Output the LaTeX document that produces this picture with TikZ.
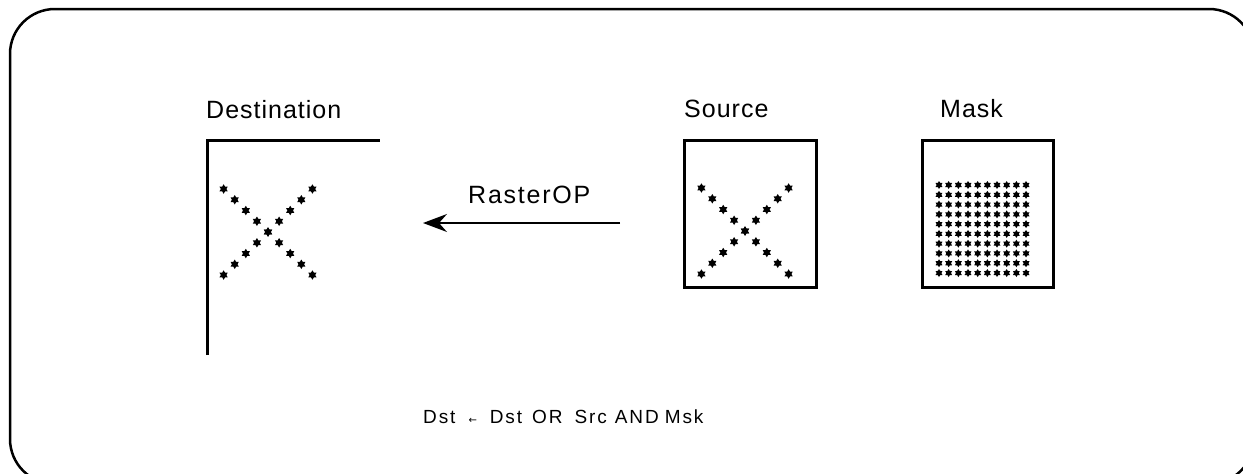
\documentclass[tikz,border=0pt]{standalone}
\usepackage{fontspec}
\setmainfont{Liberation Sans}
\newfontfamily\dvfont{DejaVu Sans}
\usetikzlibrary{shapes.geometric,arrows.meta}
\begin{document}
\begin{tikzpicture}[x=1pt,y=-1pt,
  lbl/.style={font=\fontsize{25}{30}\selectfont\addfontfeatures{LetterSpace=4}, inner sep=0, anchor=base west},
  dotstar/.style={star, star points=6, star point ratio=1.7, minimum size=9.5pt, inner sep=0, fill=black, draw=none},
  gridstar/.style={dotstar, minimum size=8pt},
  frameline/.style={line width=2.5pt},
  bx/.style={line width=3pt},
  arr/.style={line width=1.5pt, -{Stealth[length=24pt,width=18pt,inset=8pt]}}]
\useasboundingbox (0,0) rectangle (1243,474);
% outer frame (runs off the right and bottom edges)
\draw[frameline, rounded corners=45pt] (10,9) rectangle (1254,484);
% labels
\node[lbl] (ldst) at (206,118) {Destination};
\node[lbl] (lsrc) at (684,117) {Source};
\node[lbl] (lmsk) at (940,117) {Mask};
\node[lbl, font=\fontsize{25}{30}\selectfont\addfontfeatures{LetterSpace=7}] (lrop) at (468,203) {RasterOP};
% destination bracket
\coordinate (dbot) at (207,355);
\coordinate (dtl) at (207,140);
\coordinate (dtr) at (380,140);
\draw[bx] (dbot) -- (dtl) -- (dtr);
% source and mask boxes
\node[draw, bx, minimum width=132pt, minimum height=147pt, inner sep=0] (src) at (750,213.5) {};
\node[draw, bx, minimum width=131pt, minimum height=147pt, inner sep=0] (msk) at (987.5,213.5) {};
% arrow
\coordinate (as) at (620,223);
\coordinate (ae) at (423,223);
\draw[arr] (as) -- (ae);
% destination X
\foreach \i in {-4,...,4} {
  \node[dotstar] (da\i) at ({268+11.1*\i},{232+10.75*\i}) {};
  \node[dotstar] (db\i) at ({268+11.1*\i},{232-10.75*\i}) {};
}
% source X
\foreach \i in {-4,...,4} {
  \node[dotstar] (sa\i) at ({745+10.9*\i},{231+10.75*\i}) {};
  \node[dotstar] (sb\i) at ({745+10.9*\i},{231-10.75*\i}) {};
}
% mask grid
\foreach \c in {0,...,9} {
  \foreach \r in {0,...,9} {
    \node[gridstar] (m\c-\r) at ({939+9.67*\c},{185+9.78*\r}) {};
  }
}
% formula
\node[inner sep=0, anchor=base west, font=\fontsize{19}{22}\selectfont\addfontfeatures{LetterSpace=10}] (form) at (423,423) {Dst\hspace{13pt}{\dvfont\fontsize{10}{12}\selectfont ←}\hspace{13pt}Dst\hspace{10pt}OR\hspace{12pt}Src\hspace{8pt}AND\hspace{6pt}Msk};
\end{tikzpicture}
\end{document}
